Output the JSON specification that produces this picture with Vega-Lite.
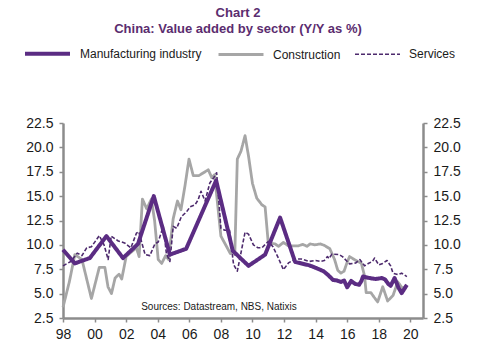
{
  "$schema": "https://vega.github.io/schema/vega-lite/v6.json",
  "autosize": "none",
  "width": 360,
  "height": 195,
  "padding": {"left": 63, "top": 123, "right": 54, "bottom": 36},
  "title": {
    "text": ["Chart 2", "China: Value added by sector (Y/Y as %)"],
    "font": "Liberation Sans",
    "fontSize": 13,
    "fontWeight": "bold",
    "color": "#5b2d6f",
    "anchor": "middle",
    "dx": -5,
    "offset": -7,
    "lineHeight": 16
  },
  "datasets": {
    "series": [
      {"series": "Manufacturing industry", "t": 1998.0, "v": 9.5},
      {"series": "Manufacturing industry", "t": 1998.75, "v": 8.1},
      {"series": "Manufacturing industry", "t": 1999.7, "v": 8.65},
      {"series": "Manufacturing industry", "t": 2000.75, "v": 10.9},
      {"series": "Manufacturing industry", "t": 2001.8, "v": 8.65},
      {"series": "Manufacturing industry", "t": 2002.75, "v": 10.1},
      {"series": "Manufacturing industry", "t": 2003.75, "v": 15.0},
      {"series": "Manufacturing industry", "t": 2004.77, "v": 9.0},
      {"series": "Manufacturing industry", "t": 2005.8, "v": 9.6},
      {"series": "Manufacturing industry", "t": 2007.7, "v": 16.6},
      {"series": "Manufacturing industry", "t": 2008.75, "v": 9.4},
      {"series": "Manufacturing industry", "t": 2009.75, "v": 7.85},
      {"series": "Manufacturing industry", "t": 2010.8, "v": 9.0},
      {"series": "Manufacturing industry", "t": 2011.75, "v": 12.8},
      {"series": "Manufacturing industry", "t": 2012.7, "v": 8.25},
      {"series": "Manufacturing industry", "t": 2013.6, "v": 7.9},
      {"series": "Manufacturing industry", "t": 2014.0, "v": 7.65},
      {"series": "Manufacturing industry", "t": 2014.5, "v": 7.3},
      {"series": "Manufacturing industry", "t": 2014.8, "v": 6.9},
      {"series": "Manufacturing industry", "t": 2015.1, "v": 6.4},
      {"series": "Manufacturing industry", "t": 2015.35, "v": 6.35},
      {"series": "Manufacturing industry", "t": 2015.6, "v": 6.2},
      {"series": "Manufacturing industry", "t": 2015.8, "v": 6.35},
      {"series": "Manufacturing industry", "t": 2016.0, "v": 5.65},
      {"series": "Manufacturing industry", "t": 2016.25, "v": 6.3},
      {"series": "Manufacturing industry", "t": 2016.5, "v": 6.0},
      {"series": "Manufacturing industry", "t": 2016.75, "v": 5.9},
      {"series": "Manufacturing industry", "t": 2016.9, "v": 6.3},
      {"series": "Manufacturing industry", "t": 2017.0, "v": 6.75},
      {"series": "Manufacturing industry", "t": 2017.4, "v": 6.6},
      {"series": "Manufacturing industry", "t": 2017.8, "v": 6.5},
      {"series": "Manufacturing industry", "t": 2018.2, "v": 6.6},
      {"series": "Manufacturing industry", "t": 2018.4, "v": 6.45},
      {"series": "Manufacturing industry", "t": 2018.6, "v": 6.0},
      {"series": "Manufacturing industry", "t": 2018.75, "v": 5.8},
      {"series": "Manufacturing industry", "t": 2019.0, "v": 6.6},
      {"series": "Manufacturing industry", "t": 2019.25, "v": 5.6},
      {"series": "Manufacturing industry", "t": 2019.45, "v": 5.05},
      {"series": "Manufacturing industry", "t": 2019.78, "v": 5.9},

      {"series": "Construction", "t": 1998.0, "v": 3.6},
      {"series": "Construction", "t": 1998.4, "v": 6.2},
      {"series": "Construction", "t": 1998.75, "v": 9.0},
      {"series": "Construction", "t": 1999.2, "v": 8.5},
      {"series": "Construction", "t": 1999.8, "v": 4.5},
      {"series": "Construction", "t": 2000.3, "v": 7.7},
      {"series": "Construction", "t": 2000.65, "v": 7.7},
      {"series": "Construction", "t": 2000.85, "v": 5.7},
      {"series": "Construction", "t": 2001.07, "v": 5.0},
      {"series": "Construction", "t": 2001.3, "v": 6.6},
      {"series": "Construction", "t": 2001.55, "v": 7.0},
      {"series": "Construction", "t": 2001.72, "v": 6.5},
      {"series": "Construction", "t": 2002.0, "v": 8.8},
      {"series": "Construction", "t": 2002.35, "v": 9.3},
      {"series": "Construction", "t": 2002.65, "v": 9.7},
      {"series": "Construction", "t": 2002.82, "v": 8.8},
      {"series": "Construction", "t": 2003.03, "v": 14.7},
      {"series": "Construction", "t": 2003.3, "v": 13.7},
      {"series": "Construction", "t": 2003.6, "v": 14.7},
      {"series": "Construction", "t": 2003.8, "v": 12.5},
      {"series": "Construction", "t": 2004.03, "v": 8.5},
      {"series": "Construction", "t": 2004.25, "v": 8.1},
      {"series": "Construction", "t": 2004.5, "v": 8.9},
      {"series": "Construction", "t": 2004.68, "v": 8.5},
      {"series": "Construction", "t": 2004.98, "v": 12.7},
      {"series": "Construction", "t": 2005.25, "v": 14.5},
      {"series": "Construction", "t": 2005.47, "v": 13.6},
      {"series": "Construction", "t": 2005.72, "v": 16.0},
      {"series": "Construction", "t": 2005.98, "v": 18.8},
      {"series": "Construction", "t": 2006.25, "v": 17.1},
      {"series": "Construction", "t": 2006.6, "v": 17.1},
      {"series": "Construction", "t": 2007.2, "v": 17.7},
      {"series": "Construction", "t": 2007.42, "v": 16.9},
      {"series": "Construction", "t": 2007.6, "v": 17.2},
      {"series": "Construction", "t": 2008.0, "v": 10.9},
      {"series": "Construction", "t": 2008.37, "v": 9.8},
      {"series": "Construction", "t": 2008.6, "v": 9.1},
      {"series": "Construction", "t": 2008.75, "v": 9.5},
      {"series": "Construction", "t": 2008.88, "v": 9.0},
      {"series": "Construction", "t": 2009.04, "v": 18.8},
      {"series": "Construction", "t": 2009.27, "v": 19.6},
      {"series": "Construction", "t": 2009.53, "v": 21.2},
      {"series": "Construction", "t": 2009.75, "v": 19.1},
      {"series": "Construction", "t": 2010.0, "v": 16.3},
      {"series": "Construction", "t": 2010.27, "v": 14.8},
      {"series": "Construction", "t": 2010.6, "v": 14.1},
      {"series": "Construction", "t": 2010.8, "v": 13.9},
      {"series": "Construction", "t": 2011.0, "v": 10.2},
      {"series": "Construction", "t": 2011.43, "v": 10.1},
      {"series": "Construction", "t": 2011.65, "v": 9.85},
      {"series": "Construction", "t": 2011.96, "v": 10.25},
      {"series": "Construction", "t": 2012.28, "v": 9.9},
      {"series": "Construction", "t": 2012.9, "v": 9.9},
      {"series": "Construction", "t": 2013.2, "v": 10.05},
      {"series": "Construction", "t": 2013.45, "v": 9.85},
      {"series": "Construction", "t": 2013.65, "v": 10.1},
      {"series": "Construction", "t": 2013.95, "v": 10.0},
      {"series": "Construction", "t": 2014.3, "v": 10.1},
      {"series": "Construction", "t": 2014.55, "v": 9.95},
      {"series": "Construction", "t": 2014.9, "v": 9.6},
      {"series": "Construction", "t": 2015.2, "v": 8.5},
      {"series": "Construction", "t": 2015.4, "v": 7.4},
      {"series": "Construction", "t": 2015.6, "v": 7.1},
      {"series": "Construction", "t": 2015.8, "v": 7.3},
      {"series": "Construction", "t": 2015.97, "v": 8.1},
      {"series": "Construction", "t": 2016.15, "v": 8.8},
      {"series": "Construction", "t": 2016.45, "v": 8.5},
      {"series": "Construction", "t": 2016.9, "v": 8.1},
      {"series": "Construction", "t": 2017.1, "v": 6.8},
      {"series": "Construction", "t": 2017.2, "v": 5.1},
      {"series": "Construction", "t": 2017.5, "v": 5.1},
      {"series": "Construction", "t": 2017.72, "v": 4.6},
      {"series": "Construction", "t": 2017.93, "v": 4.15},
      {"series": "Construction", "t": 2018.25, "v": 5.7},
      {"series": "Construction", "t": 2018.56, "v": 4.25},
      {"series": "Construction", "t": 2018.9, "v": 4.8},
      {"series": "Construction", "t": 2019.2, "v": 6.2},
      {"series": "Construction", "t": 2019.5, "v": 5.55},
      {"series": "Construction", "t": 2019.78, "v": 5.85},

      {"series": "Services", "t": 1998.0, "v": 7.85},
      {"series": "Services", "t": 1998.5, "v": 8.3},
      {"series": "Services", "t": 1998.9, "v": 9.15},
      {"series": "Services", "t": 1999.2, "v": 8.9},
      {"series": "Services", "t": 1999.5, "v": 9.7},
      {"series": "Services", "t": 1999.8, "v": 9.8},
      {"series": "Services", "t": 2000.3, "v": 10.95},
      {"series": "Services", "t": 2000.6, "v": 10.0},
      {"series": "Services", "t": 2000.86, "v": 8.5},
      {"series": "Services", "t": 2001.05, "v": 10.9},
      {"series": "Services", "t": 2001.5, "v": 10.4},
      {"series": "Services", "t": 2001.9, "v": 10.2},
      {"series": "Services", "t": 2002.3, "v": 9.7},
      {"series": "Services", "t": 2002.65, "v": 11.2},
      {"series": "Services", "t": 2002.8, "v": 11.35},
      {"series": "Services", "t": 2003.2, "v": 9.0},
      {"series": "Services", "t": 2003.5, "v": 8.9},
      {"series": "Services", "t": 2003.82, "v": 10.1},
      {"series": "Services", "t": 2004.03, "v": 10.3},
      {"series": "Services", "t": 2004.35, "v": 11.9},
      {"series": "Services", "t": 2004.55, "v": 9.1},
      {"series": "Services", "t": 2004.77, "v": 8.3},
      {"series": "Services", "t": 2004.98, "v": 11.9},
      {"series": "Services", "t": 2005.2, "v": 11.7},
      {"series": "Services", "t": 2005.5, "v": 12.9},
      {"series": "Services", "t": 2005.83, "v": 13.4},
      {"series": "Services", "t": 2006.05, "v": 13.9},
      {"series": "Services", "t": 2006.36, "v": 14.1},
      {"series": "Services", "t": 2006.55, "v": 14.6},
      {"series": "Services", "t": 2006.74, "v": 15.5},
      {"series": "Services", "t": 2007.0, "v": 14.5},
      {"series": "Services", "t": 2007.3, "v": 16.35},
      {"series": "Services", "t": 2007.55, "v": 16.9},
      {"series": "Services", "t": 2007.73, "v": 17.4},
      {"series": "Services", "t": 2008.0, "v": 11.7},
      {"series": "Services", "t": 2008.25, "v": 11.5},
      {"series": "Services", "t": 2008.55, "v": 11.5},
      {"series": "Services", "t": 2008.8, "v": 8.0},
      {"series": "Services", "t": 2009.04, "v": 7.3},
      {"series": "Services", "t": 2009.53, "v": 11.3},
      {"series": "Services", "t": 2009.75, "v": 11.1},
      {"series": "Services", "t": 2010.06, "v": 10.0},
      {"series": "Services", "t": 2010.35, "v": 9.7},
      {"series": "Services", "t": 2010.6, "v": 9.7},
      {"series": "Services", "t": 2011.0, "v": 10.35},
      {"series": "Services", "t": 2011.3, "v": 9.8},
      {"series": "Services", "t": 2011.64, "v": 8.65},
      {"series": "Services", "t": 2011.96, "v": 7.45},
      {"series": "Services", "t": 2012.28, "v": 8.15},
      {"series": "Services", "t": 2012.7, "v": 8.55},
      {"series": "Services", "t": 2013.1, "v": 8.55},
      {"series": "Services", "t": 2013.6, "v": 8.3},
      {"series": "Services", "t": 2014.0, "v": 8.4},
      {"series": "Services", "t": 2014.3, "v": 8.3},
      {"series": "Services", "t": 2014.55, "v": 8.4},
      {"series": "Services", "t": 2014.75, "v": 8.8},
      {"series": "Services", "t": 2014.85, "v": 8.6},
      {"series": "Services", "t": 2015.03, "v": 9.05},
      {"series": "Services", "t": 2015.5, "v": 9.0},
      {"series": "Services", "t": 2015.7, "v": 8.8},
      {"series": "Services", "t": 2016.15, "v": 8.05},
      {"series": "Services", "t": 2016.55, "v": 8.15},
      {"series": "Services", "t": 2016.8, "v": 8.5},
      {"series": "Services", "t": 2017.1, "v": 7.85},
      {"series": "Services", "t": 2017.4, "v": 8.15},
      {"series": "Services", "t": 2017.6, "v": 8.3},
      {"series": "Services", "t": 2017.73, "v": 8.65},
      {"series": "Services", "t": 2018.0, "v": 7.95},
      {"series": "Services", "t": 2018.25, "v": 8.1},
      {"series": "Services", "t": 2018.52, "v": 8.4},
      {"series": "Services", "t": 2018.75, "v": 7.85},
      {"series": "Services", "t": 2018.9, "v": 7.1},
      {"series": "Services", "t": 2019.2, "v": 6.95},
      {"series": "Services", "t": 2019.45, "v": 7.1},
      {"series": "Services", "t": 2019.78, "v": 6.75}
    ],
    "note": [{"label": "Sources:  Datastream,  NBS, Natixis", "t": 2002.95, "v": 3.65}]
  },
  "encoding": {
    "x": {
      "field": "t",
      "type": "quantitative",
      "scale": {"domain": [1998, 2020.8], "nice": false, "zero": false},
      "axis": {
        "values": [1998, 2000, 2002, 2004, 2006, 2008, 2010, 2012, 2014, 2016, 2018, 2020],
        "labelExpr": "substring(toString(datum.value), 2, 4)",
        "labelPadding": 5,
        "labelFlush": false,
        "labelOverlap": false
      }
    }
  },
  "layer": [
    {
      "data": {"name": "series"},
      "transform": [{"filter": "datum.series === 'Construction'"}],
      "mark": {"type": "line", "strokeJoin": "round"},
      "encoding": {
        "y": {
          "field": "v", "type": "quantitative",
          "scale": {"domain": [2.5, 22.5], "nice": false, "zero": false},
          "axis": {"orient": "left", "values": [2.5, 5, 7.5, 10, 12.5, 15, 17.5, 20, 22.5], "format": ".1f", "labelPadding": 6}
        },
        "color": {"field": "series", "type": "nominal", "scale": {"domain": ["Manufacturing industry", "Construction", "Services"], "range": ["#5b2c83", "#a6a6a6", "#4d2a6d"]}, "legend": {"title": null}},
        "strokeDash": {"field": "series", "type": "nominal", "scale": {"domain": ["Manufacturing industry", "Construction", "Services"], "range": [[1, 0], [1, 0], [4, 2]]}, "legend": {"title": null}},
        "strokeWidth": {"field": "series", "type": "nominal", "scale": {"domain": ["Manufacturing industry", "Construction", "Services"], "range": [4, 1.6, 1.5]}, "legend": {"title": null}}
      }
    },
    {
      "data": {"name": "series"},
      "transform": [{"filter": "datum.series === 'Services'"}],
      "mark": {"type": "line", "strokeJoin": "round"},
      "encoding": {
        "y": {"field": "v", "type": "quantitative", "axis": null},
        "color": {"field": "series", "type": "nominal", "legend": {"title": null}},
        "strokeDash": {"field": "series", "type": "nominal", "legend": {"title": null}},
        "strokeWidth": {"field": "series", "type": "nominal", "legend": {"title": null}}
      }
    },
    {
      "data": {"name": "series"},
      "transform": [{"filter": "datum.series === 'Manufacturing industry'"}],
      "mark": {"type": "line", "strokeJoin": "round"},
      "encoding": {
        "y": {"field": "v", "type": "quantitative", "axis": null},
        "color": {"field": "series", "type": "nominal", "legend": {"title": null}},
        "strokeDash": {"field": "series", "type": "nominal", "legend": {"title": null}},
        "strokeWidth": {"field": "series", "type": "nominal", "legend": {"title": null}}
      }
    },
    {
      "data": {"name": "note"},
      "mark": {"type": "text", "align": "left", "baseline": "middle", "font": "Liberation Sans", "fontSize": 10, "color": "#1a1a1a"},
      "encoding": {
        "y": {
          "field": "v", "type": "quantitative",
          "axis": {"orient": "right", "values": [2.5, 5, 7.5, 10, 12.5, 15, 17.5, 20, 22.5], "format": ".1f", "labelPadding": 6}
        },
        "text": {"field": "label"}
      }
    }
  ],
  "resolve": {"axis": {"y": "independent"}},
  "config": {
    "view": {"stroke": null},
    "axis": {
      "title": null,
      "grid": false,
      "domainColor": "#8c8c8c",
      "domainWidth": 2.5,
      "tickColor": "#8c8c8c",
      "tickWidth": 1.5,
      "tickSize": 4,
      "labelFont": "Liberation Sans",
      "labelFontSize": 14,
      "labelColor": "#1a1a1a"
    },
    "legend": {
      "orient": "none",
      "legendX": -40,
      "legendY": -94,
      "direction": "horizontal",
      "symbolType": "stroke",
      "symbolSize": 2025,
      "labelFont": "Liberation Sans",
      "labelFontSize": 12,
      "labelColor": "#1a1a1a",
      "labelOffset": 8,
      "columnPadding": 10,
      "padding": 0
    }
  }
}
